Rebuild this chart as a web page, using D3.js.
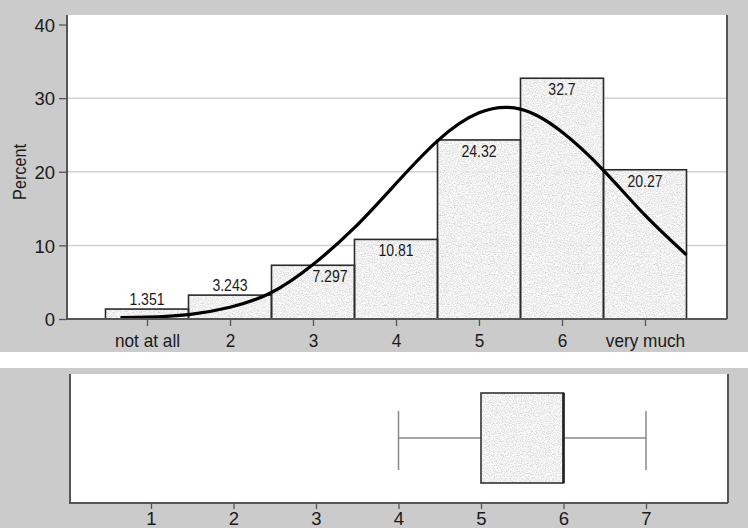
<!DOCTYPE html>
<html>
<head>
<meta charset="utf-8">
<script src="https://cdn.jsdelivr.net/npm/d3@7"></script>
<style>
  body { margin: 0; background: #fff; }
  svg text { font-family: "Liberation Sans", Arial, sans-serif; fill: #1a1a1a; }
</style>
</head>
<body>
<svg id="chart" width="748" height="528"></svg>
<script>
// histogram data
const categories = ["not at all", "2", "3", "4", "5", "6", "very much"];
const catValues = [1, 2, 3, 4, 5, 6, 7];
const percents = [1.351, 3.243, 7.297, 10.81, 24.32, 32.7, 20.27];
const percentLabels = ["1.351", "3.243", "7.297", "10.81", "24.32", "32.7", "20.27"];
const yTicks = [0, 10, 20, 30, 40];
const gridTicks = [10, 20, 30];

// normal curve
const curveX = [0.68, 1, 1.5, 2, 2.5, 3, 3.5, 4, 4.5, 5, 5.5, 6, 6.5, 7, 7.5];
const curveY = [0.2, 0.25, 0.6, 1.6, 3.6, 7.4, 12.4, 18.4, 24.2, 28.0, 28.5, 25.4, 20.2, 14.1, 8.7];

// box plot
const boxTicks = [1, 2, 3, 4, 5, 6, 7];
const whiskerLo = 4, q1 = 5, median = 6, q3 = 6, whiskerHi = 7;

const svg = d3.select("#chart");
const bgGray = "#cbcbcb";

// speckled fill
const defs = svg.append("defs");
const filt = defs.append("filter").attr("id", "speckle")
  .attr("x", 0).attr("y", 0).attr("width", 1).attr("height", 1);
filt.append("feTurbulence").attr("type", "fractalNoise")
  .attr("baseFrequency", "0.75 0.9").attr("numOctaves", 2).attr("seed", 7).attr("result", "n");
filt.append("feColorMatrix").attr("in", "n").attr("type", "matrix")
  .attr("values", "0.8 0 0 0 0.46  0.8 0 0 0 0.46  0.8 0 0 0 0.46  0 0 0 0 0.9")
  .attr("result", "g");
filt.append("feComposite").attr("in", "g").attr("in2", "SourceGraphic").attr("operator", "in");

function squeeze(sel, k) {
  sel.each(function () {
    const w = this.getComputedTextLength();
    d3.select(this).attr("textLength", w * k).attr("lengthAdjust", "spacingAndGlyphs");
  });
}

// backgrounds
svg.append("rect").attr("x", 0).attr("y", 0).attr("width", 748).attr("height", 352).attr("fill", bgGray);
svg.append("rect").attr("x", 0).attr("y", 368).attr("width", 748).attr("height", 160).attr("fill", bgGray);

// ---------- top panel ----------
const histBox = { l: 67, t: 15, r: 727, b: 319 };
const x = d3.scaleLinear().domain([1, 7]).range([147, 645]);
const y = d3.scaleLinear().domain([0, 40]).range([319, 24.5]);
const bw = x(1.5) - x(0.5);

svg.append("rect").attr("x", histBox.l).attr("y", histBox.t)
  .attr("width", histBox.r - histBox.l).attr("height", histBox.b - histBox.t).attr("fill", "#fff");

svg.append("g").selectAll("line").data(gridTicks).join("line")
  .attr("x1", histBox.l).attr("x2", histBox.r)
  .attr("y1", d => y(d)).attr("y2", d => y(d))
  .attr("stroke", "#d2d2d2").attr("stroke-width", 1.5);

const bars = svg.append("g");
bars.selectAll("rect.fill").data(percents).join("rect")
  .attr("class", "fill")
  .attr("x", (d, i) => x(catValues[i]) - bw / 2)
  .attr("y", d => y(d))
  .attr("width", bw).attr("height", d => y(0) - y(d))
  .attr("fill", "#000").attr("filter", "url(#speckle)");
bars.selectAll("rect.edge").data(percents).join("rect")
  .attr("class", "edge")
  .attr("x", (d, i) => x(catValues[i]) - bw / 2)
  .attr("y", d => y(d))
  .attr("width", bw).attr("height", d => y(0) - y(d))
  .attr("fill", "none").attr("stroke", "#2a2a2a").attr("stroke-width", 1.6);

const line = d3.line().x(d => x(d[0])).y(d => y(d[1])).curve(d3.curveNatural);
svg.append("path").datum(curveX.map((v, i) => [v, curveY[i]]))
  .attr("d", line).attr("fill", "none").attr("stroke", "#000").attr("stroke-width", 3.2);

const barLabels = svg.append("g").selectAll("text").data(percents).join("text")
  .attr("x", (d, i) => x(catValues[i]) + (i === 2 ? 17 : 0))
  .attr("y", d => d < 5 ? y(d) - 4 : y(d) + 17)
  .attr("text-anchor", "middle").attr("font-size", 16)
  .text((d, i) => percentLabels[i]);
squeeze(barLabels, 0.88);

// axes
svg.append("line").attr("x1", histBox.l).attr("x2", histBox.l).attr("y1", histBox.t).attr("y2", histBox.b + 1)
  .attr("stroke", "#555").attr("stroke-width", 2);
svg.append("line").attr("x1", histBox.l).attr("x2", histBox.r).attr("y1", histBox.b).attr("y2", histBox.b)
  .attr("stroke", "#555").attr("stroke-width", 2);
svg.append("line").attr("x1", histBox.r).attr("x2", histBox.r).attr("y1", histBox.t).attr("y2", histBox.b)
  .attr("stroke", "#555").attr("stroke-width", 2);

const yAxis = svg.append("g").attr("transform", `translate(${histBox.l},0)`)
  .call(d3.axisLeft(y).tickValues(yTicks).tickSize(8).tickPadding(4));
yAxis.select(".domain").remove();
yAxis.selectAll("line").attr("stroke", "#555").attr("stroke-width", 1.3);
yAxis.selectAll("text").attr("font-size", 18.5).attr("fill", "#1a1a1a").attr("dy", "0.36em");

const xAxis = svg.append("g").attr("transform", `translate(0,${histBox.b})`)
  .call(d3.axisBottom(x).tickValues(catValues).tickFormat((d, i) => categories[i]).tickSize(7).tickPadding(8));
xAxis.select(".domain").remove();
xAxis.selectAll("line").attr("stroke", "#555").attr("stroke-width", 1.3);
xAxis.selectAll("text").attr("font-size", 18.5).attr("fill", "#1a1a1a");
squeeze(xAxis.selectAll("text"), 0.93);

const yTitle = svg.append("text").attr("transform", "translate(26,172) rotate(-90)")
  .attr("text-anchor", "middle").attr("font-size", 18).text("Percent");
squeeze(yTitle, 0.9);

// ---------- bottom panel ----------
const boxPanel = { l: 70, t: 374, r: 728, b: 503 };
const xb = d3.scaleLinear().domain([1, 7]).range([151, 646]);
const boxTop = 393, boxBot = 483, mid = (boxTop + boxBot) / 2;

svg.append("rect").attr("x", boxPanel.l).attr("y", boxPanel.t)
  .attr("width", boxPanel.r - boxPanel.l).attr("height", boxPanel.b - boxPanel.t).attr("fill", "#fff");

const bp = svg.append("g");
bp.append("line").attr("x1", xb(whiskerLo)).attr("x2", xb(q1)).attr("y1", mid).attr("y2", mid)
  .attr("stroke", "#888").attr("stroke-width", 1.5);
bp.append("line").attr("x1", xb(q3)).attr("x2", xb(whiskerHi)).attr("y1", mid).attr("y2", mid)
  .attr("stroke", "#888").attr("stroke-width", 1.5);
[whiskerLo, whiskerHi].forEach(v => {
  bp.append("line").attr("x1", xb(v)).attr("x2", xb(v)).attr("y1", 411).attr("y2", 470)
    .attr("stroke", "#888").attr("stroke-width", 1.5);
});
bp.append("rect").attr("x", xb(q1)).attr("y", boxTop).attr("width", xb(q3) - xb(q1))
  .attr("height", boxBot - boxTop).attr("fill", "#000").attr("filter", "url(#speckle)");
bp.append("rect").attr("x", xb(q1)).attr("y", boxTop).attr("width", xb(q3) - xb(q1))
  .attr("height", boxBot - boxTop).attr("fill", "none").attr("stroke", "#333").attr("stroke-width", 1.6);
bp.append("line").attr("x1", xb(median)).attr("x2", xb(median)).attr("y1", boxTop).attr("y2", boxBot)
  .attr("stroke", "#222").attr("stroke-width", 2.6);

svg.append("line").attr("x1", boxPanel.l).attr("x2", boxPanel.l).attr("y1", boxPanel.t).attr("y2", boxPanel.b + 1)
  .attr("stroke", "#555").attr("stroke-width", 2);
svg.append("line").attr("x1", boxPanel.l).attr("x2", boxPanel.r).attr("y1", boxPanel.b).attr("y2", boxPanel.b)
  .attr("stroke", "#555").attr("stroke-width", 2);
svg.append("line").attr("x1", boxPanel.r).attr("x2", boxPanel.r).attr("y1", boxPanel.t).attr("y2", boxPanel.b)
  .attr("stroke", "#555").attr("stroke-width", 2);

const xbAxis = svg.append("g").attr("transform", `translate(0,${boxPanel.b})`)
  .call(d3.axisBottom(xb).tickValues(boxTicks).tickFormat(d3.format("d")).tickSize(6).tickPadding(3));
xbAxis.select(".domain").remove();
xbAxis.selectAll("line").attr("stroke", "#555").attr("stroke-width", 1.3);
xbAxis.selectAll("text").attr("font-size", 18.5).attr("fill", "#1a1a1a");
</script>
</body>
</html>
